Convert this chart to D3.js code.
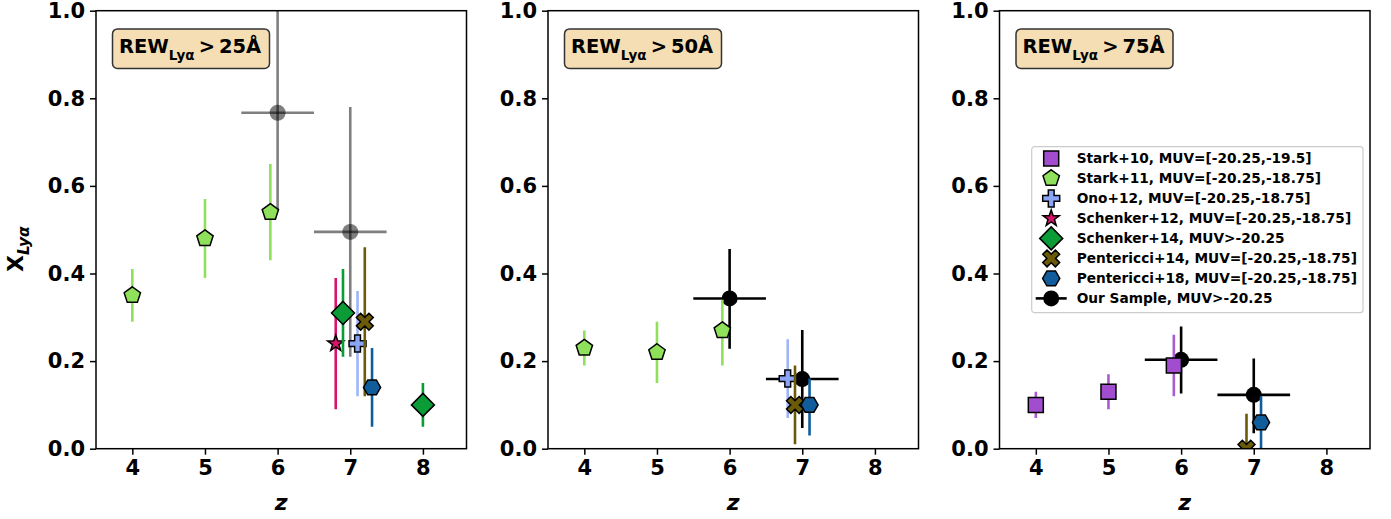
<!DOCTYPE html>
<html><head><meta charset="utf-8">
<script src="https://cdn.jsdelivr.net/npm/d3@7"></script>
<style>
body{margin:0;background:#fff;}
text{font-family:"DejaVu Sans",sans-serif;font-weight:bold;fill:#000;}
</style></head><body>
<svg id="chart" width="1391" height="519"></svg>
<script>
// ---------------- data ----------------
const panelThresholds = ["25", "50", "75"];
const xTicks = [4, 5, 6, 7, 8];
const yTicks = [0, 0.2, 0.4, 0.6, 0.8, 1.0];
const xDomain = [3.5, 8.6];
const yDomain = [0, 1];

// [z, X_Lya, lower, upper]
const stark10_25 = [];
const stark10_50 = [];
const stark10_75 = [[4, 0.10, 0.07, 0.13], [5, 0.13, 0.09, 0.17], [5.9, 0.19, 0.12, 0.26]];
const stark11_25 = [[4, 0.35, 0.29, 0.41], [5, 0.48, 0.39, 0.57], [5.9, 0.54, 0.43, 0.65]];
const stark11_50 = [[4, 0.23, 0.19, 0.27], [5, 0.22, 0.15, 0.29], [5.9, 0.27, 0.19, 0.34]];
const stark11_75 = [];
const ono12_25 = [[7.1, 0.24, 0.12, 0.36]];
const ono12_50 = [[6.8, 0.16, 0.07, 0.25]];
const ono12_75 = [];
const schenker12_25 = [[6.8, 0.24, 0.09, 0.39]];
const schenker12_50 = [];
const schenker12_75 = [];
const schenker14_25 = [[6.9, 0.31, 0.21, 0.41], [8, 0.10, 0.05, 0.15]];
const schenker14_50 = [];
const schenker14_75 = [];
const pentericci14_25 = [[7.2, 0.29, 0.12, 0.46]];
const pentericci14_50 = [[6.9, 0.10, 0.01, 0.19]];
const pentericci14_75 = [[6.9, 0.0, 0.0, 0.08]];
const pentericci18_25 = [[7.3, 0.14, 0.05, 0.23]];
const pentericci18_50 = [[7.1, 0.10, 0.03, 0.16]];
const pentericci18_75 = [[7.1, 0.06, -0.02, 0.12]];
// [z, X_Lya, lower, upper, zlow, zhigh]
const ours_25 = [[6, 0.767, 0.545, 1.05, 5.5, 6.5], [7, 0.495, 0.21, 0.78, 6.5, 7.5]];
const ours_50 = [[6, 0.343, 0.228, 0.456, 5.5, 6.5], [7, 0.159, 0.047, 0.271, 6.5, 7.5]];
const ours_75 = [[6, 0.203, 0.126, 0.279, 5.5, 6.5], [7, 0.123, 0.035, 0.206, 6.5, 7.5]];

const seriesLabels = [
  "Stark+10, MUV=[-20.25,-19.5]",
  "Stark+11, MUV=[-20.25,-18.75]",
  "Ono+12, MUV=[-20.25,-18.75]",
  "Schenker+12, MUV=[-20.25,-18.75]",
  "Schenker+14, MUV>-20.25",
  "Pentericci+14, MUV=[-20.25,-18.75]",
  "Pentericci+18, MUV=[-20.25,-18.75]",
  "Our Sample, MUV>-20.25"
];

// ---------------- symbols ----------------
function poly(ctx, pts) {
  ctx.moveTo(pts[0][0], pts[0][1]);
  for (let i = 1; i < pts.length; i++) ctx.lineTo(pts[i][0], pts[i][1]);
  ctx.closePath();
}
const symPentagon = {draw(ctx, r) {
  poly(ctx, d3.range(5).map(k => { const a = (-90 + 72 * k) * Math.PI / 180; return [r * Math.cos(a), r * Math.sin(a)]; }));
}};
const symHexagon = {draw(ctx, r) {
  poly(ctx, d3.range(6).map(k => { const a = (60 * k) * Math.PI / 180; return [r * Math.cos(a), r * Math.sin(a)]; }));
}};
const symDiamond = {draw(ctx, r) { poly(ctx, [[0, -r], [r, 0], [0, r], [-r, 0]]); }};
const symSquare = {draw(ctx, r) { poly(ctx, [[-r, -r], [r, -r], [r, r], [-r, r]]); }};
const symCircle = {draw(ctx, r) { ctx.moveTo(r, 0); ctx.arc(0, 0, r, 0, 2 * Math.PI); }};
function plusPts(r, rot) {
  const t = r * 0.34;
  const base = [[-t, -r], [t, -r], [t, -t], [r, -t], [r, t], [t, t], [t, r], [-t, r], [-t, t], [-r, t], [-r, -t], [-t, -t]];
  const c = Math.cos(rot), s = Math.sin(rot);
  return base.map(([px, py]) => [px * c - py * s, px * s + py * c]);
}
const symPlus = {draw(ctx, r) { poly(ctx, plusPts(r, 0)); }};
const symX = {draw(ctx, r) { poly(ctx, plusPts(r * 1.05, Math.PI / 4)); }};
const symStar = {draw(ctx, r) {
  poly(ctx, d3.range(10).map(k => { const rr = k % 2 ? r * 0.4 : r; const a = (-90 + 36 * k) * Math.PI / 180; return [rr * Math.cos(a), rr * Math.sin(a)]; }));
}};

// ---------------- series config ----------------
const series = [
  {label: seriesLabels[0], color: "#a24cd0", bar: "#a95ad4", sym: symSquare, size: 7.5, data: [stark10_25, stark10_50, stark10_75]},
  {label: seriesLabels[1], color: "#8fe05a", bar: "#8fe05a", sym: symPentagon, size: 8.6, data: [stark11_25, stark11_50, stark11_75]},
  {label: seriesLabels[2], color: "#8aa5f5", bar: "#9fb4f8", sym: symPlus, size: 8.5, data: [ono12_25, ono12_50, ono12_75]},
  {label: seriesLabels[3], color: "#d8136a", bar: "#d8136a", sym: symStar, size: 8.5, data: [schenker12_25, schenker12_50, schenker12_75]},
  {label: seriesLabels[4], color: "#0b9b37", bar: "#0b9b37", sym: symDiamond, size: 11.5, data: [schenker14_25, schenker14_50, schenker14_75]},
  {label: seriesLabels[5], color: "#6b5a08", bar: "#6b5a08", sym: symX, size: 8.5, data: [pentericci14_25, pentericci14_50, pentericci14_75]},
  {label: seriesLabels[6], color: "#115d9c", bar: "#115d9c", sym: symHexagon, size: 8.6, data: [pentericci18_25, pentericci18_50, pentericci18_75]}
];
const ours = {label: seriesLabels[7], data: [ours_25, ours_50, ours_75]};

// ---------------- layout ----------------
const svg = d3.select("#chart");
const W = 370.5, H = 438, topM = 10.7;
const lefts = [96, 548, 999.5];

const x = d3.scaleLinear().domain(xDomain).range([0, W]);
const y = d3.scaleLinear().domain(yDomain).range([H, 0]);

lefts.forEach((left, pi) => {
  const g = svg.append("g").attr("transform", `translate(${left},${topM})`);
  const clipId = "clip" + pi;
  g.append("clipPath").attr("id", clipId).append("rect").attr("width", W).attr("height", H);
  const plot = g.append("g").attr("clip-path", `url(#${clipId})`);

  // our sample first (drawn underneath)
  const isGray = pi === 0;
  const og = plot.append("g");
  ours.data[pi].forEach(d => {
    const op = isGray ? 0.5 : 1;
    og.append("line").attr("x1", x(d[0])).attr("x2", x(d[0])).attr("y1", y(d[2])).attr("y2", y(d[3]))
      .attr("stroke", "#000").attr("stroke-width", 2.6).attr("stroke-opacity", op);
    og.append("line").attr("x1", x(d[4])).attr("x2", x(d[5])).attr("y1", y(d[1])).attr("y2", y(d[1]))
      .attr("stroke", "#000").attr("stroke-width", 2.6).attr("stroke-opacity", op);
    og.append("path").attr("d", d3.symbol().type(symCircle).size(8)())
      .attr("transform", `translate(${x(d[0])},${y(d[1])})`).attr("fill", "#000").attr("fill-opacity", op);
  });

  series.forEach(s => {
    const data = s.data[pi];
    const sg = plot.append("g");
    sg.selectAll("line").data(data).join("line")
      .attr("x1", d => x(d[0])).attr("x2", d => x(d[0]))
      .attr("y1", d => y(d[2])).attr("y2", d => y(d[3]))
      .attr("stroke", s.bar).attr("stroke-width", 2.6);
    sg.selectAll("path").data(data).join("path")
      .attr("d", d3.symbol().type(s.sym).size(s.size)())
      .attr("transform", d => `translate(${x(d[0])},${y(d[1])})`)
      .attr("fill", s.color).attr("stroke", "#000").attr("stroke-width", 1.5).attr("stroke-linejoin", "miter");
  });

  // axes
  const xa = g.append("g").attr("transform", `translate(0,${H})`)
    .call(d3.axisBottom(x).tickValues(xTicks).tickFormat(d3.format("d")).tickSize(6).tickPadding(5));
  const ya = g.append("g")
    .call(d3.axisLeft(y).tickValues(yTicks).tickFormat(d3.format(".1f")).tickSize(6).tickPadding(5));
  [xa, ya].forEach(a => {
    a.select(".domain").remove();
    a.selectAll(".tick line").attr("stroke", "#000").attr("stroke-width", 1.5);
    a.selectAll(".tick text").attr("font-size", 21).attr("font-family", "DejaVu Sans").attr("font-weight", "bold").attr("fill", "#000");
  });
  g.append("rect").attr("width", W).attr("height", H).attr("fill", "none").attr("stroke", "#000").attr("stroke-width", 1.5);

  // x label
  g.append("text").attr("x", W / 2).attr("y", 499).attr("text-anchor", "middle")
    .attr("font-size", 22).attr("font-style", "italic").text("z");

  // annotation box
  const bx = 16.5, by = 18.2;
  g.append("rect").attr("x", bx).attr("y", by).attr("width", 157).attr("height", 39.5).attr("rx", 5)
    .attr("fill", "#f5deb3").attr("stroke", "#333").attr("stroke-width", 1.5);
  const t = g.append("text").attr("x", bx + 6.5).attr("y", by + 24.5).attr("font-size", 19.5);
  t.append("tspan").text("REW");
  t.append("tspan").attr("font-size", 13.5).attr("dy", 7).text("Lyα");
  t.append("tspan").attr("dy", -7).attr("dx", 4).text(">");
  t.append("tspan").attr("dx", 4).text(panelThresholds[pi] + "Å");
});

// y label
const yl = svg.append("text").attr("transform", "translate(23,272) rotate(-90)").attr("font-size", 22);
yl.append("tspan").text("X");
yl.append("tspan").attr("font-size", 15.5).attr("font-style", "italic").attr("dy", 6).text("Lyα");

// legend
const lg = svg.append("g").attr("transform", "translate(1031.7,146.7)");
lg.append("rect").attr("width", 331.3).attr("height", 166).attr("rx", 3)
  .attr("fill", "#fff").attr("fill-opacity", 0.8).attr("stroke", "#cccccc").attr("stroke-width", 1.2);
series.forEach((s, i) => {
  const yy = 11.7 + 20 * i;
  lg.append("path").attr("d", d3.symbol().type(s.sym).size(s.size)())
    .attr("transform", `translate(19.5,${yy})`).attr("fill", s.color).attr("stroke", "#000").attr("stroke-width", 1.5);
  lg.append("text").attr("x", 45).attr("y", yy).attr("dy", "0.36em").attr("font-size", 13.7).text(s.label);
});
{
  const yy = 11.7 + 20 * 7;
  lg.append("line").attr("x1", 4).attr("x2", 35).attr("y1", yy).attr("y2", yy).attr("stroke", "#000").attr("stroke-width", 2.6);
  lg.append("path").attr("d", d3.symbol().type(symCircle).size(8)()).attr("transform", `translate(19.5,${yy})`).attr("fill", "#000");
  lg.append("text").attr("x", 45).attr("y", yy).attr("dy", "0.36em").attr("font-size", 13.7).text(ours.label);
}
</script>
</body></html>
